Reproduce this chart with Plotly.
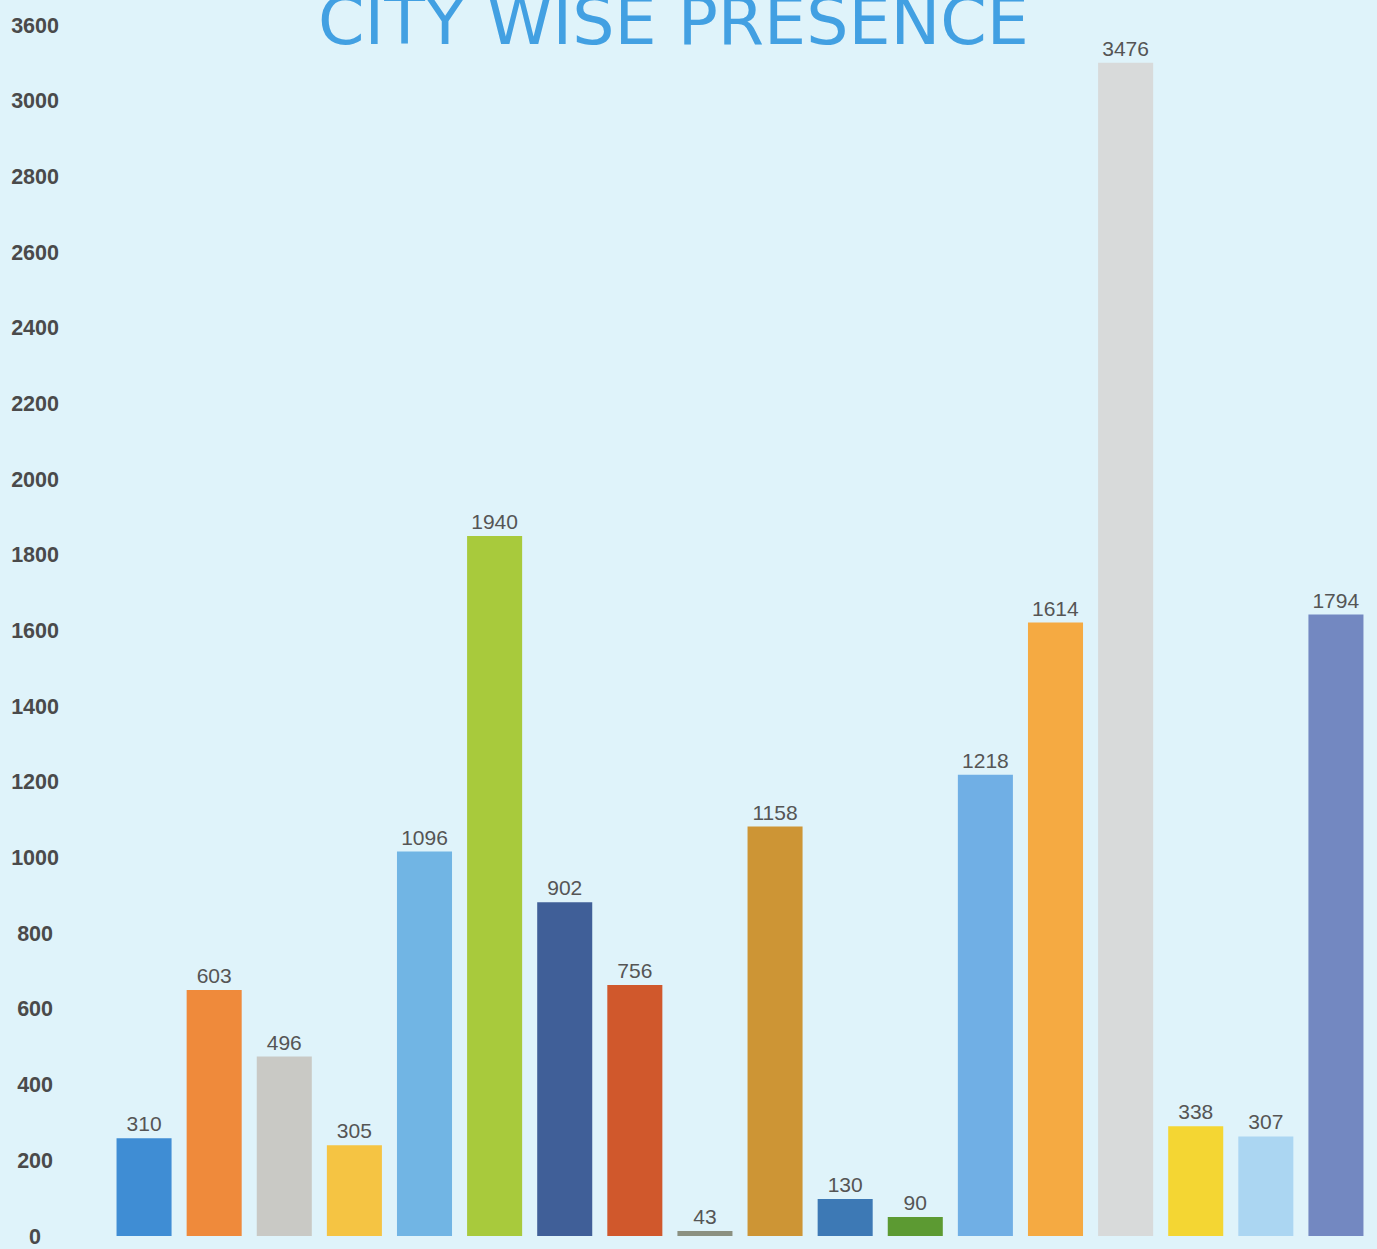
import plotly.graph_objects as go

# Data
cities = [f"C{i}" for i in range(1, 19)]
bar_heights = [258, 650, 474, 240, 1016, 1850, 882, 663, 13, 1082, 98, 50,
               1219, 1621, 3100, 290, 263, 1642]
value_labels = ["310", "603", "496", "305", "1096", "1940", "902", "756", "43",
                "1158", "130", "90", "1218", "1614", "3476", "338", "307", "1794"]
bar_colors = ["#3f8dd4", "#ef8a3b", "#c9c9c5", "#f5c443", "#71b5e4", "#a8ca3c",
              "#405f98", "#d0582c", "#8b9181", "#cd9535", "#3d79b5", "#5c9a32",
              "#70afe5", "#f5aa42", "#d8dada", "#f4d633", "#abd6f2", "#7388c1"]
tick_values = [0, 200, 400, 600, 800, 1000, 1200, 1400, 1600, 1800, 2000, 2200,
               2400, 2600, 2800, 3000, 3200]
tick_labels = ["0", "200", "400", "600", "800", "1000", "1200", "1400", "1600",
               "1800", "2000", "2200", "2400", "2600", "2800", "3000", "3600"]


def pad(label):
    # centre the labels in their column
    if len(label) == 1:
        return label + "\u2007\u2008"
    if len(label) == 3:
        return label + "\u2008"
    return label


BG = "#dff3fa"

fig = go.Figure(
    go.Bar(
        x=cities,
        y=bar_heights,
        text=value_labels,
        textposition="outside",
        textfont=dict(family="Liberation Sans, Arial", size=21, color="#555555"),
        marker=dict(color=bar_colors, line=dict(width=0)),
        cliponaxis=False,
        hoverinfo="skip",
    )
)

fig.update_layout(
    width=1377,
    height=1249,
    margin=dict(l=109, r=6, t=0, b=8),
    paper_bgcolor=BG,
    plot_bgcolor=BG,
    bargap=0.215,
    showlegend=False,
    xaxis=dict(showticklabels=False, showgrid=False, zeroline=False,
               showline=False, ticks=""),
    yaxis=dict(
        range=[0, 3266],
        tickvals=tick_values,
        ticktext=[pad(t) for t in tick_labels],
        showgrid=False,
        zeroline=False,
        showline=False,
        ticks="",
        ticklabelstandoff=49,
        ticklabeloverflow="allow",
        tickfont=dict(family="Liberation Sans, Arial", size=21.5, color="#4a4a4a",
                      weight="bold"),
    ),
    annotations=[
        dict(
            text="CITY WISE PRESENCE",
            xref="paper", yref="paper",
            x=(673 - 109) / 1262, y=1,
            xanchor="center", yanchor="top",
            yshift=20,
            showarrow=False,
            font=dict(family="DejaVu Sans", size=66.6, color="#42a0e2"),
        )
    ],
)

fig.write_html(
    "out.html",
    config={"displayModeBar": False},
    post_script="document.body.style.margin='0';document.body.style.padding='0';"
                "document.body.style.background='" + BG + "';",
)
